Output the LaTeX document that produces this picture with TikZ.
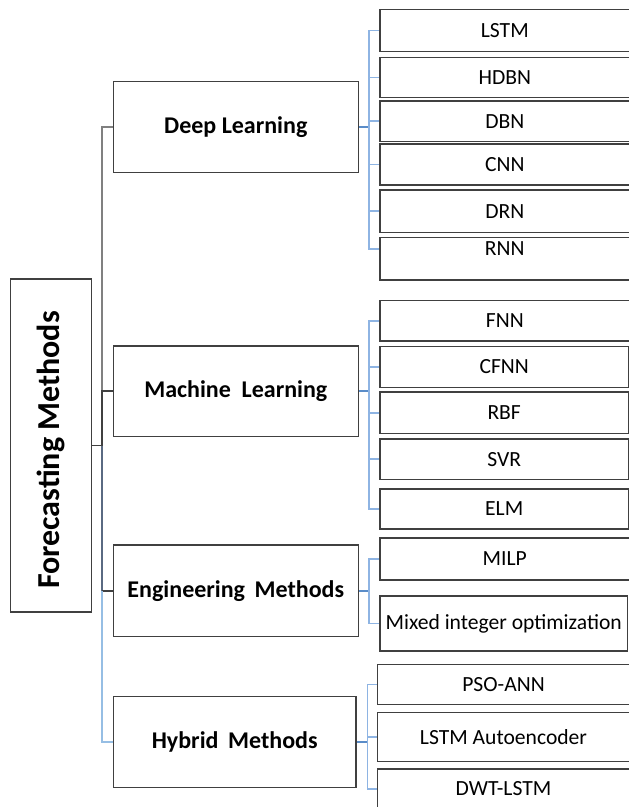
\documentclass[tikz,border=0pt]{standalone}
\usepackage{fontspec}
\setmainfont{Carlito}
\begin{document}
\begin{tikzpicture}[x=1pt,y=-1pt]
\definecolor{lblue}{RGB}{142,180,227}
\definecolor{mblue}{RGB}{90,140,200}
\definecolor{slate}{RGB}{90,106,130}
\definecolor{tlight}{RGB}{150,190,228}
\tikzset{
  boxc/.style={draw=black!75, line width=1.5pt, inner sep=0pt, fill=white},
  leaf/.style={boxc, font=\fontsize{21.6}{25}\selectfont},
  head/.style={boxc, font=\fontsize{24}{28}\selectfont\bfseries},
  leafline/.style={draw=lblue, line width=1.6pt},
  stubline/.style={draw=mblue, line width=1.7pt},
  trgray/.style={draw=black!50, line width=1.7pt},
  trdark/.style={draw=black!75, line width=1.7pt},
  trslate/.style={draw=slate, line width=1.7pt},
  trlight/.style={draw=tlight, line width=1.7pt}
}
\useasboundingbox (0,0) rectangle (629,807);
\clip (0,0) rectangle (629,807);
\fill[white] (0,0) rectangle (629,807);

% root
\node[boxc, rotate=90, minimum width=333pt, minimum height=81pt,
      font=\fontsize{32}{36}\selectfont\bfseries] (root) at (51.2,445.5) {\kern-9pt Forecasting Methods};

% headers
\node[head, minimum width=245pt, minimum height=91pt] (dl)  at (235.8,127.2) {Deep Learning};
\node[head, minimum width=245pt, minimum height=90.7pt] (ml)  at (235.8,391.3) {Machine\hspace{0.45em}Learning};
\node[head, minimum width=245pt, minimum height=91.7pt] (eng) at (235.8,590.8) {Engineering\hspace{0.4em}Methods};
\node[head, minimum width=242.7pt, minimum height=91pt] (hyb) at (234.7,742.2) {Hybrid\hspace{0.4em}Methods};

% deep learning leaves
\node[leaf, minimum width=249.6pt, minimum height=42.4pt] (lstm) at (504.8,30.5) {LSTM};
\node[leaf, minimum width=249.6pt, minimum height=40pt]   (hdbn) at (504.8,77.3) {HDBN};
\node[leaf, minimum width=249.6pt, minimum height=40.3pt] (dbn)  at (504.8,121.2) {DBN};
\node[leaf, minimum width=249.6pt, minimum height=41pt]   (cnn)  at (504.8,164.5) {CNN};
\node[leaf, minimum width=249.6pt, minimum height=42.3pt] (drn)  at (504.8,211.2) {DRN};
\node[leaf, minimum width=249.6pt, minimum height=42.7pt] (rnn)  at (504.8,258.7) {\raisebox{3.2pt}[0pt][0pt]{RNN}};

% machine learning leaves
\node[leaf, minimum width=249.6pt, minimum height=40.3pt] (fnn)  at (504.8,320.8) {FNN};
\node[leaf, minimum width=248.3pt, minimum height=40.6pt] (cfnn) at (504.2,367.0) {CFNN};
\node[leaf, minimum width=248.3pt, minimum height=41.3pt] (rbf)  at (504.2,412.7) {RBF};
\node[leaf, minimum width=248.3pt, minimum height=40.3pt] (svr)  at (504.2,459.2) {SVR};
\node[leaf, minimum width=248.3pt, minimum height=40pt]   (elm)  at (504.2,509.0) {ELM};

% engineering leaves
\node[leaf, minimum width=249.6pt, minimum height=42pt]   (milp)  at (504.8,559.0) {MILP};
\node[leaf, minimum width=247.3pt, minimum height=55pt]   (mixed) at (503.7,623.5) {Mixed integer optimization};

% hybrid leaves
\node[leaf, minimum width=252.3pt, minimum height=40pt]   (pso)  at (503.5,684.3) {PSO-ANN};
\node[leaf, minimum width=252.3pt, minimum height=49pt]   (lae)  at (503.5,737.2) {LSTM Autoencoder};
\node[leaf, minimum width=252.3pt, minimum height=40pt]   (dwt)  at (503.5,789.0) {DWT-LSTM};

% trunk
\coordinate (tr) at (102.3,0);
\draw[trgray]  (dl.west) -| (tr |- ml.west);
\draw[trdark]  (ml.west) -| (tr |- root.south);
\draw[trdark]  (root.south) -- (tr |- root.south);
\draw[trslate] (tr |- root.south) -- (tr |- eng.west);
\draw[trdark]  (eng.west) -- (tr |- eng.west);
\draw[trlight] (tr |- eng.west) |- (hyb.west);

% deep learning bus
\draw[stubline] (dl.east) -- ++(10.2,0) coordinate (dlb);
\foreach \n in {lstm,hdbn,dbn,cnn,drn} \draw[leafline] (dlb) |- (\n.west);
\draw[leafline] (dlb) |- ([yshift=9.7pt]rnn.west);

% machine learning bus
\draw[stubline] (ml.east) -- ++(10,0) coordinate (mlb);
\foreach \n in {fnn,cfnn,rbf,svr,elm} \draw[leafline] (mlb) |- (\n.west);

% engineering bus
\draw[stubline] (eng.east) -- ++(10,0) coordinate (engb);
\foreach \n in {milp,mixed} \draw[leafline] (engb) |- (\n.west);

% hybrid bus
\draw[stubline] (hyb.east) -- ++(10.7,0) coordinate (hybb);
\foreach \n in {pso,lae,dwt} \draw[leafline] (hybb) |- (\n.west);
\end{tikzpicture}
\end{document}
